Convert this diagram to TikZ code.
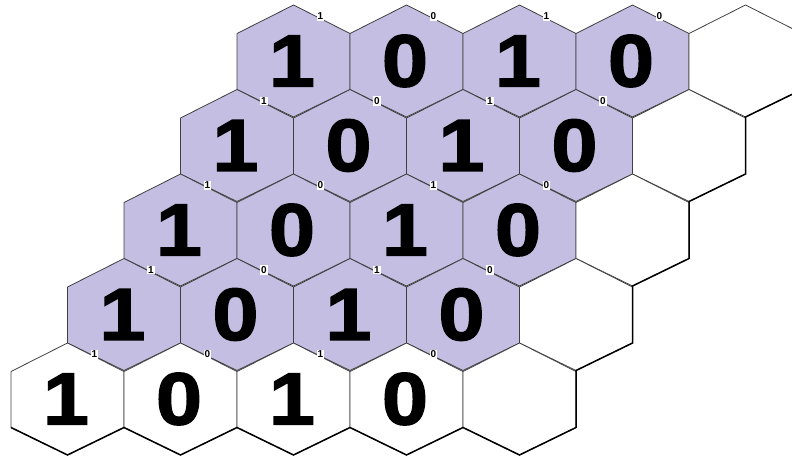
\documentclass[tikz,border=0pt]{standalone}
\usepackage{fontspec}
\setmainfont{Liberation Sans}
\newfontfamily\heavyfont[FakeBold=2,FakeStretch=1.12]{Liberation Sans Bold}
\definecolor{hexfill}{RGB}{197,190,227}
\definecolor{hexline}{RGB}{64,64,64}
\tikzset{
  hexcell/.style={draw=hexline,line width=0.8pt,line join=round},
  bigdigit/.style={font=\heavyfont\fontsize{74}{74}\selectfont,inner sep=0pt},
  smalldigit/.style={font=\bfseries\fontsize{10}{10}\selectfont,fill=white,inner sep=1pt},
  outerline/.style={draw=black,line width=1.5pt,line join=miter}
}

\begin{document}
\begin{tikzpicture}[x=1pt,y=-1pt]
  \useasboundingbox (0,0) rectangle (792,460);
  \clip (0,0) rectangle (792,460);
  % cells, row by row
  \foreach \r in {0,...,4}{
    \foreach \c in {0,...,4}{
      \pgfmathsetmacro{\cx}{293.5-56.5*\r+113*\c}
      \pgfmathsetmacro{\cy}{61+84.5*\r}
      \def\cellfill{white}
      \ifnum\r<4 \ifnum\c<4 \def\cellfill{hexfill}\fi\fi
      \path[hexcell,fill=\cellfill] (\cx,\cy) +(0,-56) -- +(56.5,-27.5) -- +(56.5,28.5)
        -- +(0,56) -- +(-56.5,28.5) -- +(-56.5,-27.5) -- cycle;
    }
  }
  % digits
  \foreach \r in {0,...,4}{
    \foreach \c in {0,...,3}{
      \pgfmathsetmacro{\cx}{293.5-56.5*\r+113*\c}
      \pgfmathsetmacro{\cy}{61+84.5*\r}
      \pgfmathtruncatemacro{\bit}{1-mod(\c,2)}
      \node[bigdigit] (d-\r-\c) at (\cx-1.5,\cy) {\bit};
      \node[smalldigit] (s-\r-\c) at (\cx+27,\cy-44.5) {\bit};
    }
  }
  % lower right edge
  \draw[outerline] (802,89.5) -- ++(-56.5,27.5)
    \foreach \i in {1,...,4}{ -- ++(0,57) -- ++(-56.5,27.5) }
    \foreach \i in {1,...,4}{ -- ++(-56.5,-27.5) -- ++(-56.5,27.5) }
    -- ++(-56.5,-27.5);
\end{tikzpicture}
\end{document}
